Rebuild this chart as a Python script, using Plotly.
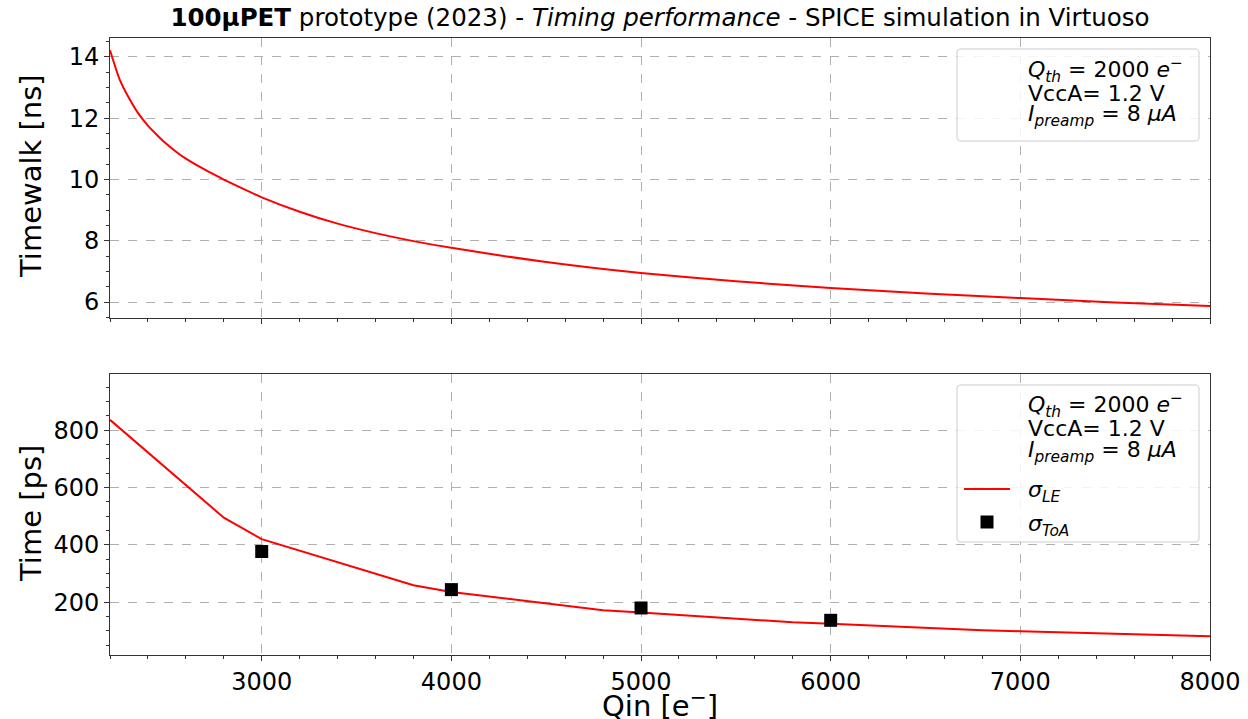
import plotly.graph_objects as go

# ---------------- data ----------------
q_tw = [2200, 2250, 2300, 2350, 2400, 2450, 2500, 2550, 2600, 2700, 2800, 2900, 3000, 3200,
        3400, 3600, 3800, 4000, 4500, 5000, 5500, 6000, 6500, 7000, 7500, 8000]
timewalk_ns = [14.22, 13.28, 12.66, 12.15, 11.76, 11.44, 11.15, 10.90, 10.68, 10.32, 10.0,
               9.70, 9.42, 8.95, 8.56, 8.25, 7.99, 7.77, 7.31, 6.95, 6.68, 6.46, 6.28,
               6.13, 5.99, 5.87]

q_le = [2200, 2800, 3000, 3800, 4000, 4800, 5000, 5800, 6000, 6800, 7000, 7800, 8000]
sigma_le_ps = [836, 495, 420, 259, 236, 172, 164, 130, 125, 102, 99, 83, 81]

q_toa = [3000, 4000, 5000, 6000]
sigma_toa_ps = [377, 244, 180, 137]

x_range = [2200, 8000]
tw_range = [5.48, 14.62]
ps_range = [16, 996]

title_text = ("<b>100µPET</b> prototype (2023) - <i>Timing performance</i> - "
              "SPICE simulation in Virtuoso")
legend_lines = ["<i>Q</i><sub><i>th</i></sub> = 2000 <i>e</i><sup>−</sup>",
                "VccA= 1.2 V",
                "<i>I</i><sub><i>preamp</i></sub> = 8 <i>μA</i>"]
label_le = "<i>σ</i><sub><i>LE</i></sub>"
label_toa = "<i>σ</i><sub><i>ToA</i></sub>"

# ---------------- layout geometry (pixels) ----------------
W, H = 1248, 719
L, R, T, B = 110, 38, 38, 64
PW, PH = W - L - R, H - T - B
FONT = "DejaVu Sans"


def px(xp):
    return (xp - L) / PW


def py(yp):
    return (H - B - yp) / PH


top_dom = [py(318), 1.0]
bot_dom = [0.0, py(374)]

fig = go.Figure()
fig.add_trace(go.Scatter(x=q_tw, y=timewalk_ns, mode="lines",
                         line=dict(color="red", width=2, shape="spline", smoothing=0.6),
                         xaxis="x", yaxis="y", showlegend=False))
fig.add_trace(go.Scatter(x=q_le, y=sigma_le_ps, mode="lines",
                         line=dict(color="red", width=2),
                         xaxis="x2", yaxis="y2", showlegend=False))
fig.add_trace(go.Scatter(x=q_toa, y=sigma_toa_ps, mode="markers",
                         marker=dict(symbol="square", size=13, color="black"),
                         xaxis="x2", yaxis="y2", showlegend=False))

axcommon = dict(showline=True, linecolor="#333", linewidth=1, mirror=True,
                ticks="outside", ticklen=5, tickcolor="#333", tickwidth=1,
                showgrid=True, gridcolor="#b0b0b0", griddash="dash", gridwidth=1,
                zeroline=False, tickfont=dict(family=FONT, size=24, color="black"))

fig.update_layout(
    width=W, height=H,
    margin=dict(l=L, r=R, t=T, b=B, autoexpand=False),
    paper_bgcolor="white", plot_bgcolor="white",
    font=dict(family=FONT, color="black"),
    title=dict(text=title_text, x=px(660), xref="paper", xanchor="center",
               y=1 - 17 / H, yref="container", yanchor="middle",
               font=dict(family=FONT, size=24.5, color="black")),
    xaxis=dict(domain=[0, 1], anchor="y", range=x_range, dtick=1000, tick0=0,
               showticklabels=False,
               minor=dict(ticks="outside", ticklen=3, dtick=200, tick0=0,
                          tickcolor="#333", showgrid=False),
               **axcommon),
    yaxis=dict(domain=top_dom, anchor="x", range=tw_range, dtick=2, tick0=0,
               minor=dict(ticks="outside", ticklen=3, dtick=0.5, tick0=0,
                          tickcolor="#333", showgrid=False),
               **axcommon),
    xaxis2=dict(domain=[0, 1], anchor="y2", range=x_range, dtick=1000, tick0=0,
                matches="x",
                minor=dict(ticks="outside", ticklen=3, dtick=200, tick0=0,
                           tickcolor="#333", showgrid=False),
                **axcommon),
    yaxis2=dict(domain=bot_dom, anchor="x2", range=ps_range, dtick=200, tick0=0,
                minor=dict(ticks="outside", ticklen=3, dtick=50, tick0=0,
                           tickcolor="#333", showgrid=False),
                **axcommon),
)


def rounded_box(x0, y0, x1, y1, r=4):
    pts = [
        ("M", [(x0 + r, y0)]), ("L", [(x1 - r, y0)]), ("Q", [(x1, y0), (x1, y0 + r)]),
        ("L", [(x1, y1 - r)]), ("Q", [(x1, y1), (x1 - r, y1)]),
        ("L", [(x0 + r, y1)]), ("Q", [(x0, y1), (x0, y1 - r)]),
        ("L", [(x0, y0 + r)]), ("Q", [(x0, y0), (x0 + r, y0)]),
    ]
    s = ""
    for cmd, ps in pts:
        s += cmd + " " + " ".join(f"{px(a):.5f},{py(b):.5f}" for a, b in ps) + " "
    return s + "Z"


shapes = [
    dict(type="path", xref="paper", yref="paper", path=rounded_box(957, 49, 1199, 141),
         fillcolor="rgba(255,255,255,0.85)", line=dict(color="#cccccc", width=1)),
    dict(type="path", xref="paper", yref="paper", path=rounded_box(957, 385, 1199, 542),
         fillcolor="rgba(255,255,255,0.85)", line=dict(color="#cccccc", width=1)),
    dict(type="line", xref="paper", yref="paper", x0=px(964), x1=px(1010),
         y0=py(489), y1=py(489), line=dict(color="red", width=2)),
    dict(type="rect", xref="paper", yref="paper", x0=px(980.5), x1=px(993.5),
         y0=py(515.5), y1=py(528.5), fillcolor="black", line=dict(width=0)),
]
fig.update_layout(shapes=shapes)

ann = []
lf = dict(family=FONT, size=22, color="black")
for txt, yc in zip(legend_lines, [70, 93, 116]):
    ann.append(dict(text=txt, xref="paper", yref="paper", x=px(1026), y=py(yc),
                    xanchor="left", yanchor="middle", showarrow=False, font=lf))
for txt, yc in zip(legend_lines, [405, 428, 451]):
    ann.append(dict(text=txt, xref="paper", yref="paper", x=px(1026), y=py(yc),
                    xanchor="left", yanchor="middle", showarrow=False, font=lf))
ann.append(dict(text=label_le, xref="paper", yref="paper", x=px(1026), y=py(491),
                xanchor="left", yanchor="middle", showarrow=False, font=lf))
ann.append(dict(text=label_toa, xref="paper", yref="paper", x=px(1026), y=py(525),
                xanchor="left", yanchor="middle", showarrow=False, font=lf))

tf = dict(family=FONT, size=29, color="black")
ann.append(dict(text="Timewalk [ns]", xref="paper", yref="paper", x=px(31), y=py(176),
                xanchor="center", yanchor="middle", textangle=-90, showarrow=False, font=tf))
ann.append(dict(text="Time [ps]", xref="paper", yref="paper", x=px(31), y=py(514),
                xanchor="center", yanchor="middle", textangle=-90, showarrow=False, font=tf))
ann.append(dict(text="Qin [e<sup>−</sup>]", xref="paper", yref="paper", x=px(660), y=py(704),
                xanchor="center", yanchor="middle", showarrow=False, font=tf))
fig.update_layout(annotations=ann)

fig.write_html("out.html")
